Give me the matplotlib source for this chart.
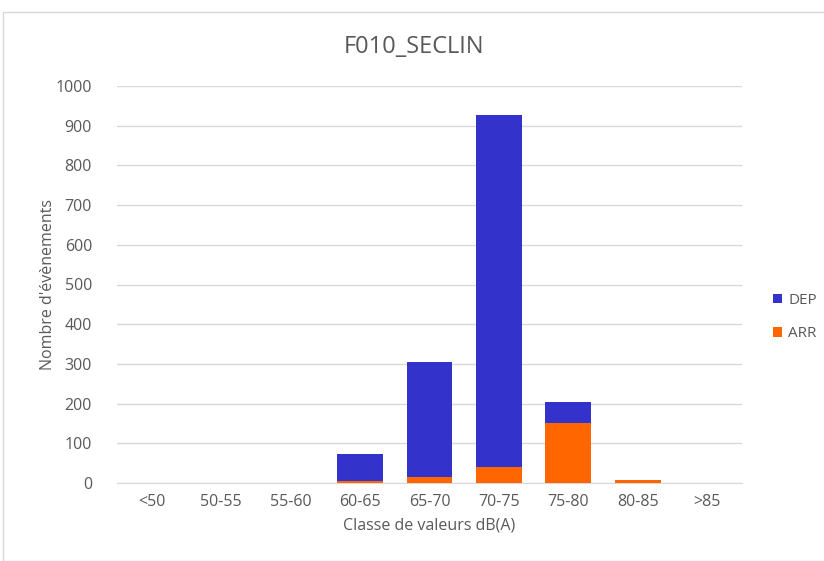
import matplotlib.pyplot as plt
import numpy as np

categories = ["<50", "50-55", "55-60", "60-65", "65-70", "70-75", "75-80", "80-85", ">85"]
arr_values = [0, 0, 0, 5, 14, 40, 150, 8, 0]
dep_values = [0, 0, 0, 67, 291, 888, 55, 0, 0]

blue = "#3333cc"
orange = "#ff6600"
grey_text = "#595959"

plt.rcParams['font.family'] = ['Open Sans', 'DejaVu Sans']

fig = plt.figure(figsize=(8.24, 5.61), dpi=100)
ax = fig.add_axes([117 / 824, 1 - 483 / 561, 625 / 824, 397 / 561])

x = np.arange(len(categories))
ax.bar(x, arr_values, width=0.66, color=orange, label="ARR", zorder=3)
ax.bar(x, dep_values, width=0.66, bottom=arr_values, color=blue, label="DEP", zorder=3)

ax.set_xlim(-0.5, len(categories) - 0.5)
ax.set_ylim(0, 1000)
ax.set_yticks(np.arange(0, 1001, 100))
ax.set_xticks(x)
ax.set_xticklabels(categories)
ax.tick_params(axis='both', length=0, colors=grey_text, labelsize=11.5)
ax.tick_params(axis='x', pad=8)
ax.tick_params(axis='y', pad=18)
ax.grid(axis='y', color="#d9d9d9", linewidth=1, zorder=0)
for side in ['top', 'right', 'left']:
    ax.spines[side].set_visible(False)
ax.spines['bottom'].set_color("#d9d9d9")

ax.set_xlabel("Classe de valeurs dB(A)", color=grey_text, fontsize=11.5, labelpad=5)
ax.set_ylabel("Nombre d'évènements", color=grey_text, fontsize=11.5, labelpad=0)
fig.text(414 / 824, 1 - 47 / 561, "F010_SECLIN", ha='center', va='center',
         fontsize=17, color=grey_text)

handles, labels = ax.get_legend_handles_labels()
leg = fig.legend(handles[::-1], labels[::-1], loc='center left',
                 bbox_to_anchor=(759 / 824, 1 - 317 / 561), frameon=False,
                 fontsize=11, handlelength=0.6, handleheight=0.6,
                 labelspacing=1.2, handletextpad=0.4)
for t in leg.get_texts():
    t.set_color(grey_text)

# thin chart-area border like the source image
fig.add_artist(plt.Rectangle((3 / 824, 0), 1, 1 - 12 / 561, transform=fig.transFigure,
                             fill=False, edgecolor="#d9d9d9", linewidth=1))

fig.savefig("out.png", dpi=100)
